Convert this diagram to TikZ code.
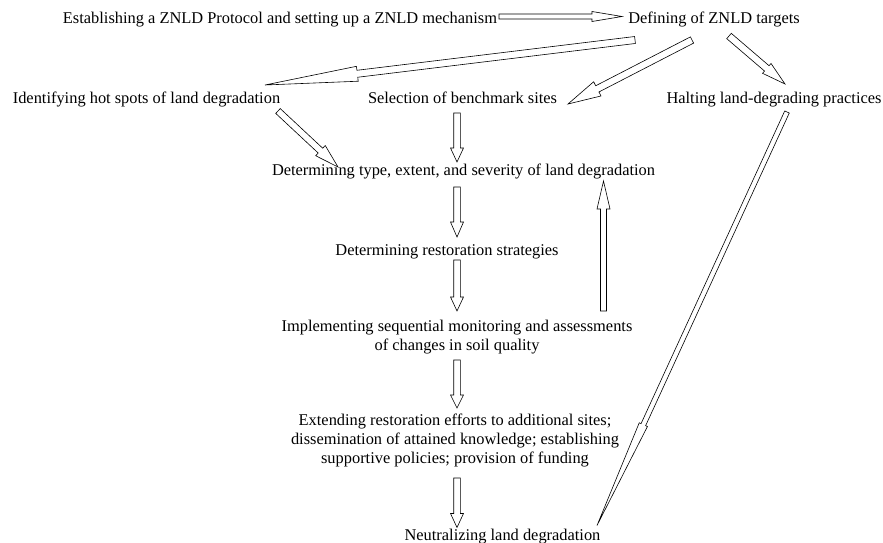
\documentclass[tikz,border=0pt]{standalone}
\usepackage{fontspec}
\setmainfont{Liberation Serif}
\usetikzlibrary{calc}

\tikzset{
  lbl/.style={inner sep=0pt, anchor=base, align=center, font=\fontsize{16.4}{18.7}\selectfont},
  blk/.style={draw, line width=0.6pt, line join=miter, fill=white}
}
% block arrow: tail, tip, shaft half width, head length, head half width
\newcommand{\blockarrow}[5]{%
  \coordinate (ba-s) at #1;
  \coordinate (ba-t) at #2;
  \coordinate (ba-n) at ($(ba-t)!#4!(ba-s)$);
  \draw[blk] ($(ba-s)!#3!90:(ba-t)$) -- ($(ba-n)!#3!-90:(ba-s)$) -- ($(ba-n)!#5!-90:(ba-s)$)
    -- (ba-t) -- ($(ba-n)!#5!90:(ba-s)$) -- ($(ba-n)!#3!90:(ba-s)$) -- ($(ba-s)!#3!-90:(ba-t)$) -- cycle;
}

\begin{document}
\begin{tikzpicture}[x=1pt, y=-1pt]
  \useasboundingbox (0,0) rectangle (883,543);
  \node[lbl] (Est) at (280,23.5) {Establishing a ZNLD Protocol and setting up a ZNLD mechanism};
  \node[lbl] (Def) at (714,23.5) {Defining of ZNLD targets};
  \node[lbl] (Hot) at (146.5,103) {Identifying hot spots of land degradation};
  \node[lbl] (Sel) at (462.5,103) {Selection of benchmark sites};
  \node[lbl] (Halt) at (774,103) {Halting land-degrading practices};
  \node[lbl] (Det) at (463.5,175) {Determining type, extent, and severity of land degradation};
  \node[lbl] (Strat) at (447,255) {Determining restoration strategies};
  \node[lbl] (Impl) at (457,350) {Implementing sequential monitoring and assessments\\of changes in soil quality};
  \node[lbl] (Ext) at (455,463) {Extending restoration efforts to additional sites;\\dissemination of attained knowledge; establishing\\supportive policies; provision of funding};
  \node[lbl] (Neut) at (502.5,540.5) {Neutralizing land degradation};

  % top row
  \blockarrow{($(Est.base)+(219,-7)$)}{($(Def.base)+(-92,-7)$)}{2.5pt}{30pt}{5pt}
  \blockarrow{($(Def.base)+(-79,16.5)$)}{($(Hot.base)+(118.5,-18)$)}{3.5pt}{93pt}{7.5pt}
  \blockarrow{($(Def.base)+(-22,16.5)$)}{($(Sel.base)+(105.5,1)$)}{3.5pt}{33pt}{8pt}
  \blockarrow{($(Def.base)+(15,12.5)$)}{($(Halt.base)+(11,-19)$)}{3.5pt}{24pt}{6.5pt}
  % down the middle
  \blockarrow{($(Hot.base)+(131.5,8)$)}{($(Det.base)+(-125.5,-8)$)}{3.3pt}{24pt}{7pt}
  \blockarrow{($(Sel.base)+(-5.5,10)$)}{($(Det.base)+(-6.5,-13)$)}{3.3pt}{14pt}{6.5pt}
  \blockarrow{($(Det.base)+(-6.5,12)$)}{($(Strat.base)+(10,-18)$)}{3.3pt}{15pt}{6.5pt}
  \blockarrow{($(Strat.base)+(10,5)$)}{($(Impl.base)+(0,-39)$)}{3.3pt}{14pt}{6.5pt}
  \blockarrow{($(Impl.base)+(0,10)$)}{($(Ext.base)+(2,-55)$)}{3.3pt}{13pt}{6.5pt}
  \blockarrow{($(Ext.base)+(2,15)$)}{($(Neut.base)+(-45.5,-13)$)}{3.3pt}{14pt}{6.5pt}
  % feedback and long arrow
  \blockarrow{($(Impl.base)+(146.5,-39)$)}{($(Det.base)+(140,6)$)}{3pt}{28pt}{6.5pt}
  \blockarrow{($(Halt.base)+(13,9)$)}{($(Neut.base)+(94.5,-15)$)}{2.5pt}{111pt}{4.5pt}
\end{tikzpicture}
\end{document}
